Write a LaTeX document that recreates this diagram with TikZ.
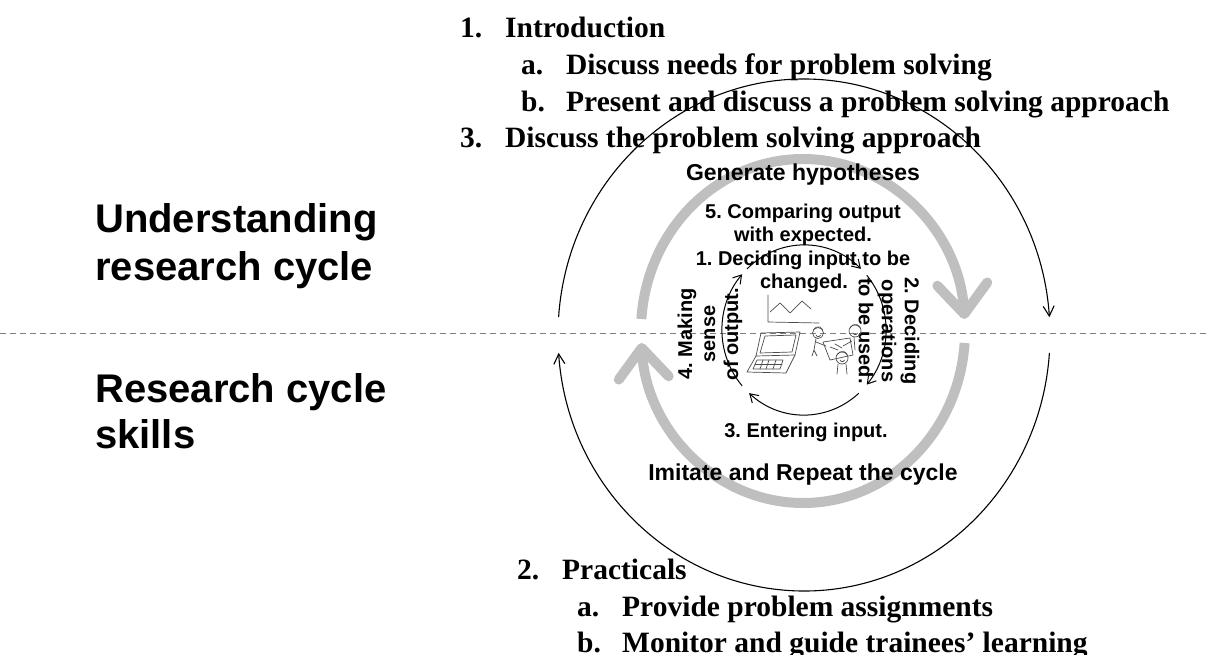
\documentclass[tikz,border=0pt]{standalone}
\usepackage{fontspec}
\setmainfont{Liberation Serif}
\setsansfont{Liberation Sans}
\usetikzlibrary{arrows.meta,calc}
\frenchspacing
\begin{document}
\begin{tikzpicture}[x=1pt,y=1pt,
  listline/.style={anchor=base west,inner sep=0pt,font=\fontsize{29.5}{35}\selectfont\bfseries},
  sidelabel/.style={anchor=base west,inner sep=0pt,font=\fontsize{40}{47}\selectfont\sffamily\bfseries},
  cyclelabel/.style={anchor=base,inner sep=0pt,font=\fontsize{23}{27}\selectfont\sffamily\bfseries},
  steplabel/.style={anchor=base,inner sep=0pt,font=\fontsize{20}{23}\selectfont\sffamily\bfseries},
  sidestep/.style={inner sep=0pt,align=center,font=\fontsize{20}{23}\selectfont\sffamily\bfseries},
  divider/.style={draw=black!50,line width=1pt,dash pattern=on 6pt off 4pt},
  outerarc/.style={draw=black,line width=1.1pt,-{Straight Barb[length=10pt,width=11pt]}},
  innerarc/.style={draw=black,line width=1pt,-{Straight Barb[length=8pt,width=10pt]}},
  grayarc/.style={draw=black!25,line width=10pt,-{Straight Barb[length=30pt,width=50pt,round]}},
  sketch/.style={draw=black!70,line width=0.7pt,line cap=round,line join=round},
]
\useasboundingbox (0,0) rectangle (1209,-655);

% centres of the three cycles
\coordinate (outerc) at (804,-335);
\coordinate (grayc) at (803,-331);
\coordinate (innerc) at (804,-330);

% divider between the two halves
\coordinate (divl) at (0,-333);
\coordinate (divr) at (1209,-333);
\draw[divider] (divl) -- (divr);

% thick grey cycle
\draw[grayarc] ([shift={(176:162 and 172)}]grayc) arc[start angle=176,end angle=4,x radius=162,y radius=172];
\draw[grayarc] ([shift={(-4:162 and 172)}]grayc) arc[start angle=-4,end angle=-176,x radius=162,y radius=172];

% session outline
\node[listline] (intro)   at (460,-38)  {\makebox[45pt][l]{1.}Introduction};
\node[listline] (introa)  at (521,-75)  {\makebox[45pt][l]{a.}Discuss needs for problem solving};
\node[listline] (introb)  at (521,-112) {\makebox[45pt][l]{b.}Present and discuss a problem solving approach};
\node[listline] (discuss) at (460,-148) {\makebox[45pt][l]{3.}Discuss the problem solving approach};
\node[listline] (pract)   at (517,-579) {\makebox[45pt][l]{2.}Practicals};
\node[listline] (practa)  at (577,-616) {\makebox[45pt][l]{a.}Provide problem assignments};
\node[listline] (practb)  at (577,-652) {\makebox[45pt][l]{b.}Monitor and guide trainees’ learning};

% side headings
\node[sidelabel] (und1) at (95,-232) {Understanding};
\node[sidelabel] (und2) at (95,-280) {research cycle};
\node[sidelabel] (res1) at (95,-402) {Research cycle};
\node[sidelabel] (res2) at (95,-448) {skills};

% labels of the grey cycle
\node[cyclelabel] (gen) at (803,-181) {Generate hypotheses};
\node[cyclelabel] (imit) at (803,-480) {Imitate and Repeat the cycle};

% steps of the inner cycle
\node[steplabel] (s5a) at (803,-218) {5. Comparing output};
\node[steplabel] (s5b) at (803,-241) {with expected.};
\node[steplabel] (s1a) at (803,-265) {1. Deciding input to be};
\node[steplabel] (s1b) at (804,-288) {changed.};
\node[steplabel] (s3) at (806,-437) {3. Entering input.};
\node[sidestep,rotate=-90] (s2) at (889,-331) {2. Deciding\\operations\\to be used.};
\node[sidestep,rotate=90] (s4) at (710,-334) {4. Making\\sense\\of output.};

% outer thin cycle
\draw[outerarc] ([shift={(176:246 and 256)}]outerc) arc[start angle=176,end angle=4,x radius=246,y radius=256];
\draw[outerarc] ([shift={(-4:246 and 256)}]outerc) arc[start angle=-4,end angle=-176,x radius=246,y radius=256];

% inner thin cycle
\draw[innerarc] ([shift={(134:82 and 85)}]innerc) arc[start angle=134,end angle=46,x radius=82,y radius=85];
\draw[innerarc] ([shift={(40:82 and 85)}]innerc) arc[start angle=40,end angle=-40,x radius=82,y radius=85];
\draw[innerarc] ([shift={(-48:82 and 85)}]innerc) arc[start angle=-48,end angle=-132,x radius=82,y radius=85];
\draw[innerarc] ([shift={(221:82 and 85)}]innerc) arc[start angle=221,end angle=139,x radius=82,y radius=85];

% chart sketch
\draw[sketch] (768,-295) -- (768,-322) -- (819,-323);
\draw[sketch] (770,-312) -- (780,-303) -- (790,-313) -- (802,-301) -- (811,-309);

% laptop sketch
\draw[sketch] (761,-333) -- (800,-332) -- (795,-355) -- (756,-356) -- cycle;
\draw[sketch] (765,-336) -- (796,-335) -- (792,-352) -- (760,-353) -- cycle;
\draw[sketch] (756,-356) -- (747,-372) -- (786,-373) -- (795,-355);
\draw[sketch] (757,-360) -- (783,-360) -- (780,-369) -- (753,-369) -- cycle;
\draw[sketch] (755,-364.5) -- (782,-364.5);
\draw[sketch] (763,-360) -- (760,-369) (769,-360) -- (766,-369) (776,-360) -- (773,-369);

% group of trainees sketch
\draw[sketch] (818,-333) circle[radius=5.5];
\draw[sketch] (855,-331) circle[radius=6];
\draw[sketch] (842,-358) circle[radius=6];
\draw[sketch] (813.5,-330) arc[start angle=160,end angle=20,radius=5];
\draw[sketch] (850,-328) arc[start angle=160,end angle=20,radius=5.5];
\draw[sketch] (837,-355) arc[start angle=160,end angle=20,radius=5.5];
\draw[sketch] (816,-335) arc[start angle=200,end angle=340,radius=2.5];
\draw[sketch] (853,-333) arc[start angle=200,end angle=340,radius=2.5];
\draw[sketch] (840,-360) arc[start angle=200,end angle=340,radius=2.5];
\draw[sketch] (823,-342) -- (850,-338) -- (853,-355) -- (830,-360) -- cycle;
\draw[sketch] (816,-338.5) -- (814,-350) (814,-350) -- (812,-356) (814,-350) -- (817,-356);
\draw[sketch] (816,-342) -- (826,-346);
\draw[sketch] (854,-337) -- (855,-350) (852,-341) -- (843,-346);
\draw[sketch] (838,-364) -- (837,-374) (846,-364) -- (847,-374);
\draw[sketch] (830,-347) -- (838,-350) (835,-344) -- (842,-348);

\end{tikzpicture}
\end{document}
